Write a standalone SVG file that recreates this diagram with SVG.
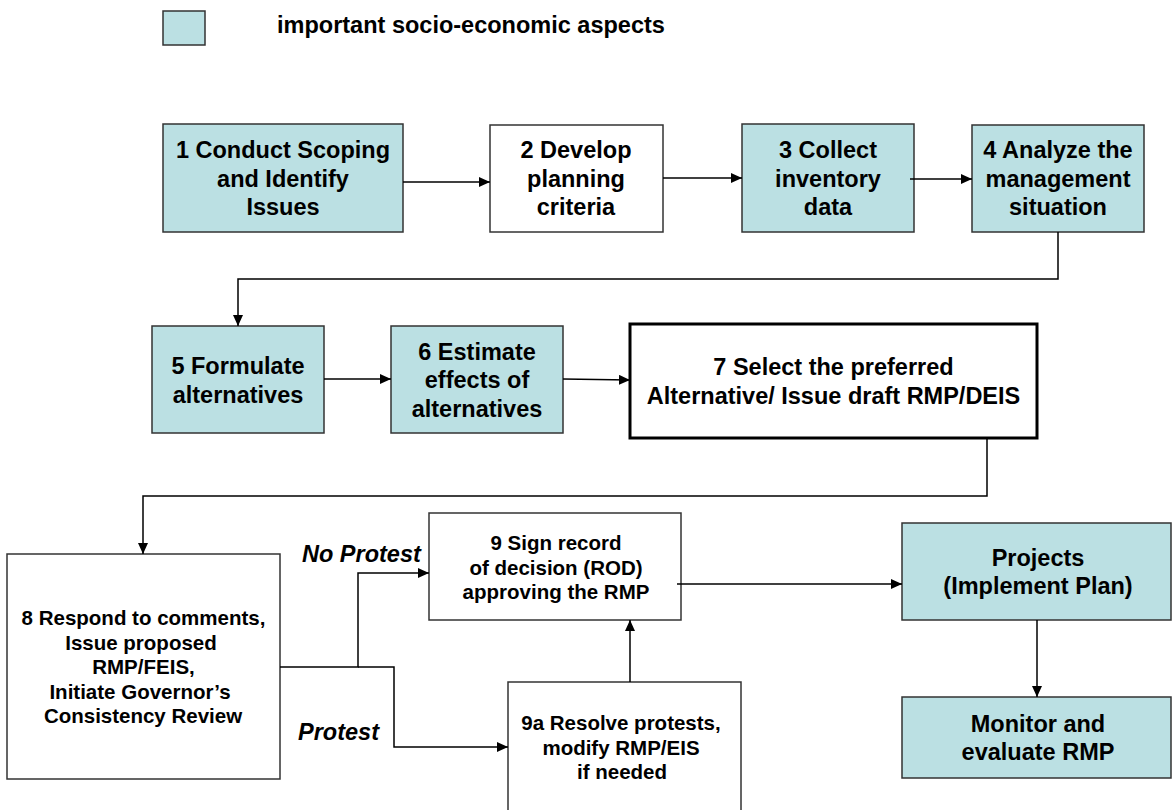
<svg xmlns="http://www.w3.org/2000/svg" width="1172" height="810" viewBox="0 0 1172 810">
<defs>
<style>
.box{stroke:#333;stroke-width:1.5}
.hl{fill:#BBE0E3}
.wh{fill:#fff}
.big{font-family:"Liberation Sans",Arial,sans-serif;font-weight:bold;font-size:23.5px;fill:#000;text-anchor:middle}
.small{font-family:"Liberation Sans",Arial,sans-serif;font-weight:bold;font-size:20.5px;fill:#000;text-anchor:middle}
.lab{font-family:"Liberation Sans",Arial,sans-serif;font-weight:bold;font-style:italic;font-size:23.5px;fill:#000}
.conn{fill:none;stroke:#000;stroke-width:1.5}
</style>
<marker id="arr" markerUnits="userSpaceOnUse" markerWidth="12" markerHeight="10" refX="11" refY="5" orient="auto">
<path d="M0,0 L11,5 L0,10 Z" fill="#000"/>
</marker>
</defs>
<rect width="1172" height="810" fill="#fff"/>

<g id="legend">
<rect class="box hl" x="163" y="11" width="42" height="34"/>
<text class="lab" style="font-style:normal" x="277" y="33">important socio-economic aspects</text>
</g>

<g id="n1">
<rect class="box hl" x="163" y="124" width="240" height="108"/>
<text class="big" x="283" y="158">1 Conduct Scoping</text>
<text class="big" x="283" y="186.5">and Identify</text>
<text class="big" x="283" y="215">Issues</text>
</g>
<g id="n2">
<rect class="box wh" x="490" y="125" width="173" height="107"/>
<text class="big" x="576" y="158">2 Develop</text>
<text class="big" x="576" y="186.5">planning</text>
<text class="big" x="576" y="215">criteria</text>
</g>
<g id="n3">
<rect class="box hl" x="742" y="124" width="172" height="108"/>
<text class="big" x="828" y="158">3 Collect</text>
<text class="big" x="828" y="186.5">inventory</text>
<text class="big" x="828" y="215">data</text>
</g>
<g id="n4">
<rect class="box hl" x="972" y="125" width="172" height="107"/>
<text class="big" x="1058" y="158">4 Analyze the</text>
<text class="big" x="1058" y="186.5">management</text>
<text class="big" x="1058" y="215">situation</text>
</g>
<g id="n5">
<rect class="box hl" x="152" y="326" width="172" height="107"/>
<text class="big" x="238" y="374">5 Formulate</text>
<text class="big" x="238" y="402.5">alternatives</text>
</g>
<g id="n6">
<rect class="box hl" x="391" y="326" width="172" height="107"/>
<text class="big" x="477" y="359.5">6 Estimate</text>
<text class="big" x="477" y="388">effects of</text>
<text class="big" x="477" y="416.5">alternatives</text>
</g>
<g id="n7">
<rect x="630" y="324" width="407" height="114" fill="#fff" stroke="#000" stroke-width="3"/>
<text class="big" x="833.5" y="375">7 Select the preferred</text>
<text class="big" x="833.5" y="403.5">Alternative/ Issue draft RMP/DEIS</text>
</g>
<g id="n8">
<rect class="box wh" x="7" y="554" width="273" height="225"/>
<text class="small" x="143.5" y="625">8 Respond to comments,</text>
<text class="small" x="141" y="649.5">Issue proposed</text>
<text class="small" x="143.5" y="674">RMP/FEIS,</text>
<text class="small" x="140" y="698.5">Initiate Governor’s</text>
<text class="small" x="143" y="723">Consistency Review</text>
</g>
<g id="n9">
<rect class="box wh" x="429" y="513" width="252" height="107"/>
<text class="small" x="556" y="550">9 Sign record</text>
<text class="small" x="556" y="574.5">of decision (ROD)</text>
<text class="small" x="556" y="599">approving the RMP</text>
</g>
<g id="n9a">
<rect class="box wh" x="508" y="682" width="233" height="140"/>
<text class="small" x="621" y="730">9a Resolve protests,</text>
<text class="small" x="621" y="754.5">modify RMP/EIS</text>
<text class="small" x="622" y="779">if needed</text>
</g>
<g id="projects">
<rect class="box hl" x="902" y="523" width="269" height="97"/>
<text class="big" x="1038" y="565.5">Projects</text>
<text class="big" x="1038" y="594">(Implement Plan)</text>
</g>
<g id="monitor">
<rect class="box hl" x="902" y="697" width="269" height="81"/>
<text class="big" x="1038" y="731.5">Monitor and</text>
<text class="big" x="1038" y="760">evaluate RMP</text>
</g>

<g id="connectors">
<path class="conn" d="M403,182 H490" marker-end="url(#arr)"/>
<path class="conn" d="M663,178 H742" marker-end="url(#arr)"/>
<path class="conn" d="M910,179 H972" marker-end="url(#arr)"/>
<path class="conn" d="M1058,232 V279 H238 V326" marker-end="url(#arr)"/>
<path class="conn" d="M324,379 H391" marker-end="url(#arr)"/>
<path class="conn" d="M563,379 L630,380" marker-end="url(#arr)"/>
<path class="conn" d="M987,438 V496 H143 V554" marker-end="url(#arr)"/>
<path class="conn" d="M280,667 H358 V573 H429" marker-end="url(#arr)"/>
<path class="conn" d="M358,667 H394 V747 H508" marker-end="url(#arr)"/>
<path class="conn" d="M630,682 V620" marker-end="url(#arr)"/>
<path class="conn" d="M677,584 H902" marker-end="url(#arr)"/>
<path class="conn" d="M1037,620 V697" marker-end="url(#arr)"/>
<text class="lab" x="302" y="562">No Protest</text>
<text class="lab" x="298" y="740">Protest</text>
</g>
</svg>
